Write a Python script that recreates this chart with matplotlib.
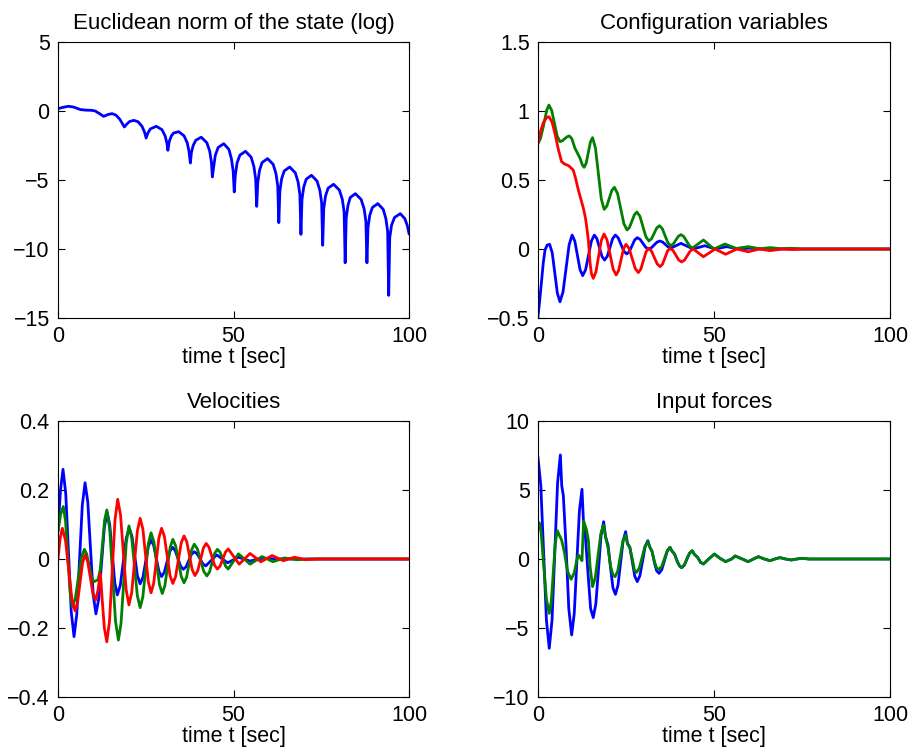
import matplotlib
matplotlib.use("Agg")
import matplotlib.pyplot as plt
import numpy as np

plt.rcParams["font.family"] = ["Liberation Sans", "DejaVu Sans"]

BLUE = "#0000ff"
GREEN = "#008000"
RED = "#ff0000"

# (time, value) pairs
norm_log = [
    (0, 0.17), (1.5, 0.27), (3, 0.34), (4.5, 0.28), (6.4, 0.1), (8, 0.06), (9.5, 0.05), (10.6, 0.0),
    (12, -0.22), (13, -0.39), (14.2, -0.26), (15.4, -0.19), (16.5, -0.3), (17.6, -0.6), (18.9, -1.16),
    (19.6, -0.95), (20.4, -0.76), (21.6, -0.68), (22.8, -0.78), (23.9, -1.1), (24.6, -1.5), (25.1, -1.96),
    (25.6, -1.6), (26.3, -1.3), (28.0, -1.11), (29.6, -1.35), (30.5, -1.8), (31.0, -2.3), (31.3, -2.85),
    (31.7, -2.2), (32.3, -1.8), (32.9, -1.6), (34.4, -1.5), (35.9, -1.8), (36.8, -2.3), (37.3, -2.9), (37.7, -3.77),
    (38.0, -3.0), (38.5, -2.5), (39.25, -2.12), (40.8, -1.9), (42.4, -2.3), (43.2, -2.9), (43.7, -3.7), (43.97, -4.78),
    (44.3, -4.12), (44.8, -3.22), (45.6, -2.65), (47.2, -2.37), (48.7, -2.79), (49.4, -3.47), (49.9, -4.37), (50.2, -5.87),
    (50.5, -4.67), (51.0, -3.77), (51.8, -3.2), (53.4, -2.92), (55.0, -3.34), (55.8, -4.02), (56.3, -4.92), (56.6, -6.91),
    (56.9, -5.2), (57.4, -4.3), (58.15, -3.73), (59.7, -3.45), (61.3, -3.87), (62.1, -4.55), (62.6, -5.45), (62.9, -8.09),
    (63.2, -5.81), (63.7, -4.91), (64.45, -4.34), (66.0, -4.06), (67.6, -4.48), (68.4, -5.16), (68.9, -6.06), (69.2, -8.94),
    (69.5, -6.41), (70.0, -5.51), (70.7, -4.94), (72.2, -4.66), (73.8, -5.08), (74.6, -5.76), (75.1, -6.66), (75.4, -9.73),
    (75.7, -7.06), (76.2, -6.16), (76.95, -5.59), (78.5, -5.31), (80.15, -5.73), (81.0, -6.41), (81.5, -7.31), (81.8, -11.0),
    (82.1, -7.74), (82.6, -6.84), (83.25, -6.27), (84.7, -5.99), (86.35, -6.41), (87.2, -7.09), (87.7, -7.99), (88.0, -11.0),
    (88.3, -8.46), (88.8, -7.56), (89.55, -6.99), (91.1, -6.71), (92.65, -7.13), (93.4, -7.81), (93.9, -8.71), (94.2, -13.36),
    (94.5, -9.19), (95.0, -8.29), (95.85, -7.72), (97.5, -7.44), (98.8, -7.8), (99.5, -8.3), (100, -8.89),
]

config_blue = [
    (0, -0.49), (0.5, -0.37), (1.04, -0.225), (1.5, -0.1), (2.0, -0.007), (2.6, 0.028), (3.3, 0.034),
    (4.04, -0.027), (4.775, -0.174), (5.51, -0.321), (6.25, -0.382),
    (7.11, -0.311), (7.975, -0.1405), (8.84, 0.03), (9.7, 0.101),
    (10.45, 0.058), (11.2, -0.046), (11.95, -0.15), (12.7, -0.193),
    (13.525, -0.15), (14.35, -0.046), (15.175, 0.058), (16.0, 0.101),
    (16.725, 0.075), (17.45, 0.0105), (18.175, -0.054), (18.9, -0.08),
    (19.67, -0.054), (20.435, 0.0105), (21.2, 0.075), (21.97, 0.101),
    (22.78, 0.081), (23.585, 0.0325), (24.39, -0.016), (25.2, -0.036),
    (25.95, -0.019), (26.7, 0.023), (27.45, 0.065), (28.2, 0.082),
    (29.0, 0.07), (29.8, 0.041), (30.6, 0.012), (31.4, 0.0),
    (32.2, 0.0085), (33.0, 0.029), (33.8, 0.0495), (34.6, 0.058),
    (35.4, 0.0505), (36.2, 0.0325), (37.0, 0.0144), (37.8, 0.007),
    (39.2, 0.024), (40.6, 0.041), (42.35, 0.0205), (44.1, 0.0), (45.75, 0.012), (47.4, 0.024),
    (48.85, 0.012), (50.3, 0.0), (51.95, 0.0085), (53.6, 0.017), (55.3, 0.0085), (57.0, 0.0),
    (60, 0.006), (63, 0.0), (100, 0.0),
]

config_green = [
    (0, 0.766), (0.7, 0.8), (1.5, 0.886), (2.5, 1.007), (3.1, 1.043),
    (3.89, 1.004), (4.675, 0.91), (5.46, 0.817), (6.25, 0.778),
    (6.91, 0.784), (7.575, 0.7985), (8.24, 0.813), (8.9, 0.819),
    (9.6, 0.8), (10.5, 0.73), (11.9, 0.66), (12.6, 0.61), (13.1, 0.592),
    (13.7, 0.623), (14.3, 0.7), (14.9, 0.776), (15.5, 0.807),
    (16.325, 0.731), (17.15, 0.547), (17.975, 0.363), (18.8, 0.287),
    (19.525, 0.31), (20.25, 0.367), (20.975, 0.424), (21.7, 0.447),
    (22.6, 0.402), (23.5, 0.2925), (24.4, 0.183), (25.3, 0.138),
    (26.0, 0.157), (26.7, 0.203), (27.4, 0.249), (28.1, 0.268),
    (28.95, 0.237), (29.8, 0.163), (30.65, 0.089), (31.5, 0.058),
    (32.25, 0.074), (33.0, 0.1135), (33.75, 0.153), (34.5, 0.169),
    (35.3, 0.148), (36.1, 0.0965), (36.9, 0.045), (37.7, 0.024),
    (38.425, 0.036), (39.15, 0.064), (39.875, 0.092), (40.6, 0.104),
    (41.425, 0.09), (42.25, 0.0555), (43.075, 0.021), (43.9, 0.007),
    (45.45, 0.036), (47.0, 0.065), (48.5, 0.0325), (50.0, 0.0), (51.55, 0.018), (53.1, 0.036),
    (54.7, 0.02), (56.3, 0.004), (58.0, 0.0105), (59.7, 0.017), (61.3, 0.0095), (63.0, 0.002),
    (66.0, 0.01), (69.0, 0.002), (72.0, 0.005), (75, 0.0), (100, 0.0),
]

config_red = [
    (0, 0.766), (0.8, 0.86), (1.6, 0.92), (2.4, 0.95), (3.1, 0.959), (4.0, 0.92), (4.8, 0.84),
    (5.8, 0.72), (6.7, 0.633), (7.6, 0.615), (8.6, 0.605), (9.3, 0.59), (10.0, 0.572), (10.7, 0.51),
    (11.46, 0.427), (12.2, 0.36), (12.9, 0.295), (13.5, 0.222), (13.9, 0.15), (14.3, 0.065),
    (14.8, -0.104), (15.2, -0.18), (15.7, -0.213),
    (16.46, -0.166), (17.225, -0.052), (17.99, 0.062), (18.75, 0.109),
    (19.61, 0.066), (20.475, -0.0395), (21.34, -0.145), (22.2, -0.188),
    (22.9, -0.156), (23.6, -0.077), (24.3, 0.002), (25.0, 0.034),
    (25.875, 0.004), (26.75, -0.0685), (27.625, -0.141), (28.5, -0.171),
    (29.225, -0.145), (29.95, -0.083), (30.675, -0.021), (31.4, 0.005),
    (32.225, -0.0144), (33.05, -0.0615), (33.875, -0.1086), (34.7, -0.128),
    (35.4, -0.1086), (36.1, -0.0615), (36.8, -0.0144), (37.5, 0.005),
    (38.325, -0.0095), (39.15, -0.0445), (39.975, -0.0795), (40.8, -0.094),
    (41.625, -0.0803), (42.45, -0.047), (43.275, -0.0137), (44.1, 0.0),
    (45.55, -0.028), (47.0, -0.056), (48.65, -0.028), (50.3, 0.0), (51.8, -0.019), (53.3, -0.038),
    (54.9, -0.019), (56.5, 0.0), (58.1, -0.01), (59.7, -0.02), (61.35, -0.01), (63.0, 0.0),
    (65.9, -0.012), (69.5, 0.0), (72.5, -0.004), (75, 0.0), (100, 0.0),
]

vel_blue = [
    (0, 0.084), (0.7, 0.2), (1.42, 0.26), (2.205, 0.189), (2.99, 0.0175), (3.775, -0.154), (4.56, -0.225),
    (5.345, -0.16), (6.13, -0.002), (6.915, 0.156), (7.7, 0.221), (8.475, 0.1655), (9.25, 0.031),
    (10.025, -0.1035), (10.8, -0.159), (11.6, -0.116), (12.4, -0.012), (13.2, 0.092), (14.0, 0.135),
    (14.725, 0.1), (15.45, 0.0155), (16.175, -0.069), (16.9, -0.104), (17.75, -0.076), (18.6, -0.0075),
    (19.45, 0.061), (20.3, 0.089), (21.075, 0.0655), (21.85, 0.0085), (22.625, -0.0485), (23.4, -0.072),
    (24.175, -0.0535), (24.95, -0.0085), (25.725, 0.0365), (26.5, 0.055), (27.25, 0.0395), (28.0, 0.002),
    (28.75, -0.0355), (29.5, -0.051), (30.275, -0.0386), (31.05, -0.0085), (31.825, 0.0216), (32.6, 0.034),
    (33.375, 0.0247), (34.15, 0.002), (34.925, -0.0207), (35.7, -0.03), (36.475, -0.0226), (37.25, -0.0045),
    (38.025, 0.0136), (38.8, 0.021), (39.625, 0.015), (40.45, 0.0005), (41.275, -0.014), (42.1, -0.02),
    (43.65, -0.004), (45.2, 0.012), (46.75, 0.0005), (48.3, -0.011), (49.85, -0.003), (51.4, 0.005),
    (53.05, -0.0005), (54.7, -0.006), (58, 0.002), (62, 0.0), (100, 0.0),
]

vel_green = [
    (0, 0.079), (0.75, 0.13), (1.5, 0.152), (2.145, 0.11), (2.79, 0.007), (3.435, -0.096), (4.08, -0.138),
    (4.935, -0.114), (5.79, -0.055), (6.645, 0.004), (7.5, 0.028), (8.175, 0.0143), (8.85, -0.019),
    (9.525, -0.052), (10.2, -0.066), (11.4, -0.06), (12.025, -0.0305), (12.65, 0.041), (13.275, 0.1125),
    (13.9, 0.142), (14.725, 0.087), (15.55, -0.0465), (16.375, -0.18), (17.2, -0.235), (17.95, -0.1867),
    (18.7, -0.0695), (19.45, 0.0477), (20.2, 0.096), (21.0, 0.0614), (21.8, -0.0225), (22.6, -0.1064),
    (23.4, -0.141), (24.175, -0.1093), (24.95, -0.0325), (25.725, 0.0443), (26.5, 0.076), (27.3, 0.0503),
    (28.1, -0.012), (28.9, -0.0743), (29.7, -0.1), (30.45, -0.0771), (31.2, -0.0215), (31.95, 0.0341),
    (32.7, 0.057), (33.5, 0.0386), (34.3, -0.006), (35.1, -0.0506), (35.9, -0.069), (36.625, -0.0526),
    (37.35, -0.013), (38.075, 0.0266), (38.8, 0.043), (39.7, 0.0296), (40.6, -0.003), (41.5, -0.0356),
    (42.4, -0.049), (43.15, -0.0378), (43.9, -0.0105), (44.65, 0.0168), (45.4, 0.028), (46.175, 0.0197),
    (46.95, -0.0005), (47.725, -0.0207), (48.5, -0.029), (49.95, -0.007), (51.4, 0.015), (53.05, 0.0),
    (54.7, -0.015), (56.4, -0.004), (58.1, 0.007), (59.65, 0.0), (61.2, -0.008), (64.5, 0.003),
    (68, -0.002), (72, 0.0), (100, 0.0),
]

vel_red = [
    (0, 0.0), (0.6, 0.06), (1.23, 0.089), (2.13, 0.0541), (3.035, -0.0305), (3.94, -0.1151), (4.84, -0.15),
    (5.555, -0.1263), (6.27, -0.069), (6.985, -0.0117), (7.7, 0.012), (8.45, -0.0071), (9.2, -0.0535),
    (9.95, -0.0999), (10.7, -0.119), (11.4, -0.09), (12.0, -0.042), (12.2, -0.06), (12.6, -0.12),
    (13.2, -0.2), (13.9, -0.24), (14.675, -0.1797), (15.45, -0.0335), (16.225, 0.1127), (17.0, 0.173),
    (17.8, 0.1283), (18.6, 0.02), (19.4, -0.0883), (20.2, -0.133), (21.0, -0.0964), (21.8, -0.0075),
    (22.6, 0.0814), (23.4, 0.118), (24.175, 0.0865), (24.95, 0.01), (25.725, -0.0665), (26.5, -0.098),
    (27.25, -0.0707), (28.0, -0.0045), (28.75, 0.0617), (29.5, 0.089), (30.3, 0.0656), (31.1, 0.009),
    (31.9, -0.0476), (32.7, -0.071), (33.5, -0.0509), (34.3, -0.002), (35.1, 0.0469), (35.9, 0.067),
    (36.675, 0.0502), (37.45, 0.0095), (38.225, -0.0312), (39.0, -0.048), (39.8, -0.0344), (40.6, -0.0015),
    (41.4, 0.0314), (42.2, 0.045), (43.0, 0.0342), (43.8, 0.008), (44.6, -0.0182), (45.4, -0.029),
    (46.175, -0.0205), (46.95, 0.0), (47.725, 0.0205), (48.5, 0.029), (50.05, 0.007), (51.6, -0.015),
    (53.15, 0.0005), (54.7, 0.016), (56.25, 0.004), (57.8, -0.008), (59.4, 0.001), (61.0, 0.01),
    (64.2, -0.005), (67.3, 0.005), (70.5, -0.002), (74, 0.0), (100, 0.0),
]

force_blue = [
    (0, 7.35), (0.8, 5.33), (1.6, 0.44), (2.4, -4.45), (3.2, -6.47),
    (3.99, -4.42), (4.78, 0.535), (5.56, 5.49), (6.35, 7.54),
    (6.75, 5.3), (7.2, 4.6), (7.95, 1.0), (8.75, -3.6), (9.56, -5.5),
    (10.3, -3.96), (11.03, -0.225), (11.77, 3.51), (12.5, 5.05),
    (12.9, 2.8), (13.5, 1.5), (14.2, -1.0), (14.95, -3.6), (15.7, -4.25),
    (16.44, -3.23), (17.18, -0.775), (17.91, 1.69), (18.65, 2.7),
    (19.2, 1.6), (19.9, 1.0), (20.6, -0.6), (21.3, -2.1), (22.0, -2.56),
    (22.73, -1.9), (23.45, -0.29), (24.18, 1.32), (24.9, 1.98),
    (25.4, 1.15), (26.1, 0.85), (26.8, -0.2), (27.5, -1.25), (28.2, -1.64),
    (28.95, -1.21), (29.7, -0.155), (30.45, 0.9), (31.2, 1.33),
    (31.7, 0.9), (32.4, 0.55), (33.1, -0.3), (33.7, -0.85), (34.4, -1.04),
    (35.18, -0.76), (35.95, -0.095), (36.73, 0.57), (37.5, 0.85),
    (38.0, 0.6), (38.8, 0.35), (39.6, -0.2), (40.2, -0.5), (40.8, -0.63),
    (41.55, -0.45), (42.3, 0.0), (43.05, 0.42), (43.8, 0.6),
    (44.4, 0.35), (45.4, 0.1), (46.2, -0.25), (47.0, -0.36),
    (48.5, 0.0), (50.1, 0.36), (51.7, 0.05), (53.3, -0.19), (55.0, 0.0), (56.0, 0.22),
    (58.0, 0.0), (59.7, -0.19), (61.2, 0.0), (62.6, 0.17), (64.3, 0.0), (65.9, -0.12),
    (67.3, 0.0), (68.7, 0.1), (70.3, 0.0), (72.0, -0.07), (73.5, 0.0), (74.9, 0.05),
    (77, 0.0), (80, 0.0), (100, 0.0),
]

force_green = [
    (0, 2.7), (0.4, 2.6), (0.9, 1.9), (1.6, -0.4), (2.4, -2.9), (3.2, -3.94),
    (3.78, -3.07), (4.35, -0.945), (4.93, 1.18), (5.5, 2.05),
    (6.1, 1.7), (6.7, 1.38), (7.5, 0.5), (8.4, -0.9), (9.4, -1.47),
    (10.3, -1.0), (11.0, -0.1), (11.5, 0.29), (12.0, 0.1), (12.5, -0.12), (12.75, 1.5), (12.97, 2.75),
    (13.8, 2.1), (14.3, 1.38), (14.8, -0.55), (15.5, -2.0),
    (16.28, -1.35), (17.05, 0.23), (17.83, 1.81), (18.6, 2.46),
    (19.2, 1.6), (19.9, 0.8), (20.6, -0.5), (21.3, -1.15), (21.9, -1.28),
    (22.65, -0.87), (23.4, 0.23), (24.15, 1.33), (24.9, 1.74),
    (25.4, 1.1), (26.1, 0.8), (26.8, 0.0), (27.4, -0.8), (28.0, -0.97),
    (28.8, -0.64), (29.6, 0.145), (30.4, 0.93), (31.2, 1.26),
    (31.7, 0.9), (32.4, 0.55), (33.1, -0.2), (33.7, -0.65), (34.4, -0.75),
    (35.18, -0.52), (35.95, 0.05), (36.73, 0.62), (37.5, 0.85),
    (38.0, 0.6), (38.8, 0.35), (39.6, -0.2), (40.2, -0.5), (40.8, -0.63),
    (41.55, -0.45), (42.3, 0.0), (43.05, 0.42), (43.8, 0.6),
    (44.4, 0.35), (45.4, 0.1), (46.2, -0.25), (47.0, -0.36),
    (48.5, 0.0), (50.1, 0.36), (51.7, 0.05), (53.3, -0.19), (55.0, 0.0), (56.0, 0.22),
    (58.0, 0.0), (59.7, -0.19), (61.2, 0.0), (62.6, 0.17), (64.3, 0.0), (65.9, -0.12),
    (67.3, 0.0), (68.7, 0.1), (70.3, 0.0), (72.0, -0.07), (73.5, 0.0), (74.9, 0.05),
    (77, 0.0), (80, 0.0), (100, 0.0),
]

panels = [
    ("Euclidean norm of the state (log)", [-15, -10, -5, 0, 5], [(norm_log, BLUE)]),
    ("Configuration variables", [-0.5, 0, 0.5, 1, 1.5],
     [(config_blue, BLUE), (config_green, GREEN), (config_red, RED)]),
    ("Velocities", [-0.4, -0.2, 0, 0.2, 0.4],
     [(vel_blue, BLUE), (vel_green, GREEN), (vel_red, RED)]),
    ("Input forces", [-10, -5, 0, 5, 10], [(force_blue, BLUE), (force_green, GREEN)]),
]

positions = [
    [0.0639, 0.5788, 0.3866, 0.3656],
    [0.5925, 0.5788, 0.3877, 0.3656],
    [0.0639, 0.0768, 0.3866, 0.3656],
    [0.5925, 0.0768, 0.3877, 0.3656],
]


def fmt(v):
    return f"{v:g}".replace("-", "\u2212")


fig = plt.figure(figsize=(9.08, 7.55), dpi=100)
for (title, yticks, series), pos in zip(panels, positions):
    ax = fig.add_axes(pos)
    for data, color in series:
        t, v = np.array(data).T
        ax.plot(t, v, color=color, lw=2.0)
    ax.set_xlim(0, 100)
    ax.set_ylim(yticks[0], yticks[-1])
    ax.set_xticks([0, 50, 100], labels=[fmt(x) for x in [0, 50, 100]])
    ax.set_yticks(yticks, labels=[fmt(y) for y in yticks])
    ax.tick_params(direction="in", top=True, right=True, length=5, width=0.8,
                   labelsize=15.5, pad=6)
    for sp in ax.spines.values():
        sp.set_linewidth(0.8)
    ax.set_title(title, fontsize=16, pad=9)
    ax.set_xlabel("time t [sec]", fontsize=15.5, labelpad=0)

fig.savefig("out.png", dpi=100)
